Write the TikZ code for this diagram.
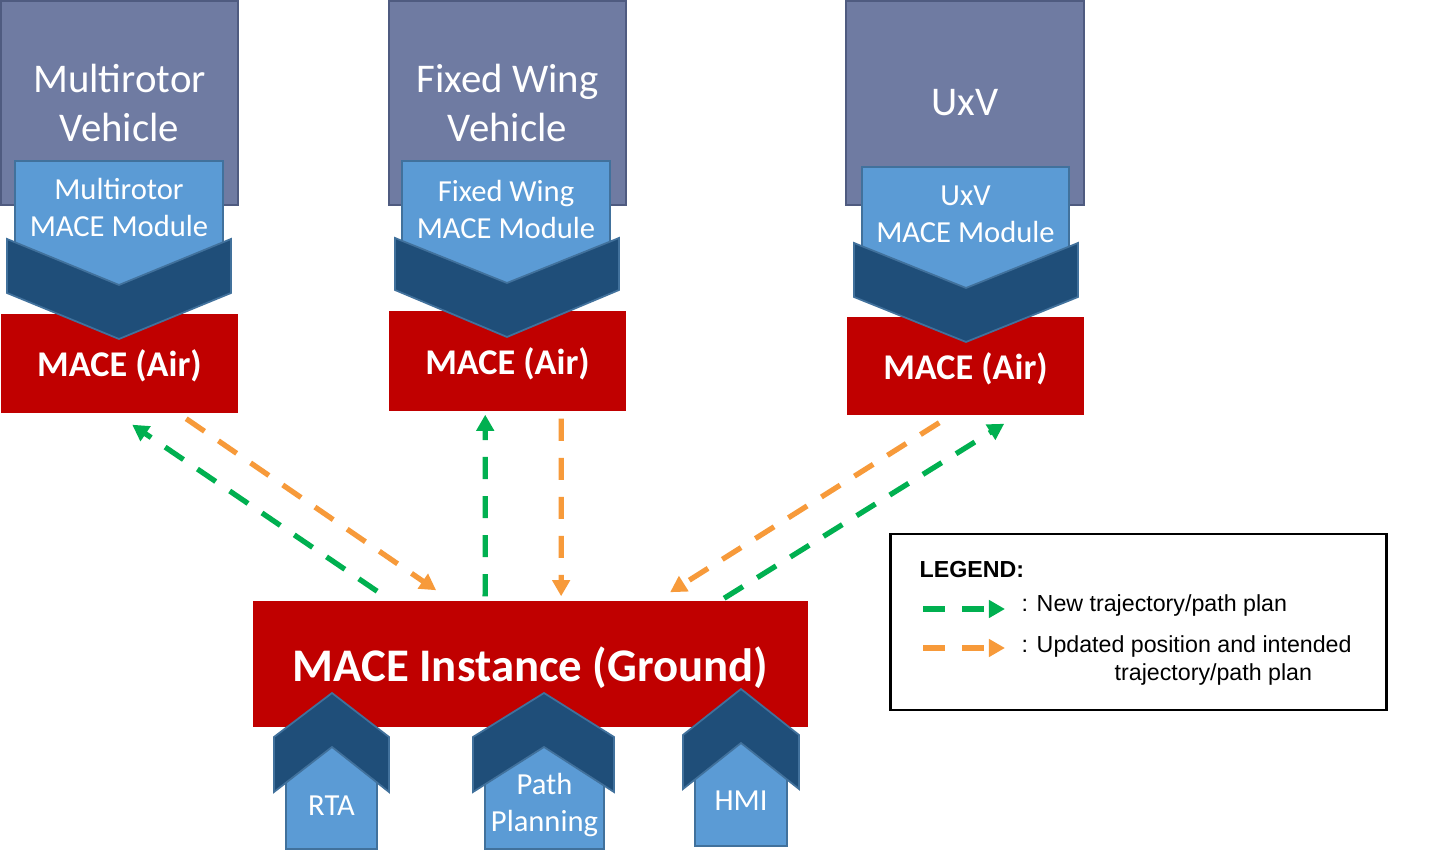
\documentclass[tikz,border=0pt]{standalone}
\usepackage{fontspec}
\setmainfont{Carlito}
\newfontfamily\legendfont{Liberation Sans}
\usetikzlibrary{arrows.meta, calc}

\definecolor{vehgray}{HTML}{6F7BA2}
\definecolor{vehedge}{HTML}{4F5B80}
\definecolor{modblue}{HTML}{5B9BD5}
\definecolor{modedge}{HTML}{41719C}
\definecolor{chevblue}{HTML}{1F4E79}
\definecolor{macered}{HTML}{C00000}
\definecolor{plangreen}{HTML}{00B050}
\definecolor{updorange}{HTML}{F79A3A}

\begin{document}
\begin{tikzpicture}[x=0.01cm, y=-0.01cm,
    vehicle/.style = {draw=vehedge, line width=0.8pt, fill=vehgray, text=white, align=center, inner sep=0pt, minimum width=2.37cm, minimum height=2.04cm, font=\fontsize{11.6}{14}\selectfont},
    module/.style = {draw=modedge, line width=0.5pt, fill=modblue, inner sep=0pt},
    modtext/.style = {text=white, align=center, inner sep=0pt, font=\fontsize{8.7}{10.5}\selectfont},
    air/.style = {fill=macered, text=white, inner sep=0pt, text depth=0pt, minimum width=2.37cm, minimum height=0.99cm, font=\bfseries\fontsize{10.3}{12}\selectfont},
    chev/.style = {draw=modedge, line width=0.5pt, fill=chevblue},
    newplan/.style = {draw=plangreen, line width=1.5pt, dash pattern=on 6.3pt off 4.8pt, -{Triangle[length=4.6pt, width=4.9pt]}},
    updplan/.style = {draw=updorange, line width=1.5pt, dash pattern=on 6.3pt off 4.8pt, -{Triangle[length=4.6pt, width=4.9pt]}},
    legtext/.style = {font=\legendfont\fontsize{6.6}{8}\selectfont, inner sep=0pt, anchor=base west}]

    \fill[white] (0,0) rectangle (1456,858);
    \useasboundingbox (0,0) rectangle (1456,858);

    % vehicles on top
    \node[vehicle] (veh1) at (119.5,103) {Multirotor\\Vehicle};
    \node[vehicle] (veh2) at (507.5,103) {Fixed Wing\\Vehicle};
    \node[vehicle, minimum width=2.38cm] (veh3) at (965,103) {UxV};

    \node[module, minimum width=2.08cm, minimum height=1.29cm] (mod1) at (119,225.5) {};
    \node[module, minimum width=2.08cm, minimum height=1.27cm] (mod2) at (506,224.5) {};
    \node[module, minimum width=2.07cm, minimum height=1.25cm] (mod3) at (965.5,229.5) {};
    \node[modtext] (mod1txt) at ($(mod1.north)+(0,47.5)$) {Multirotor\\MACE Module};
    \node[modtext] (mod2txt) at ($(mod2.north)+(0,49.5)$) {Fixed Wing\\MACE Module};
    \node[modtext] (mod3txt) at ($(mod3.north)+(0,48)$) {UxV\\MACE Module};

    \node[air] (air1) at (119.5,363.5) {MACE (Air)};
    \node[air, minimum height=1cm] (air2) at (507.5,361) {MACE (Air)};
    \node[air, minimum height=0.98cm] (air3) at (965.5,366) {MACE (Air)};

    \draw[chev] (7,239) -- (119,285) -- (231,239) -- (231,293) -- (119,339) -- (7,293) -- cycle;
    \draw[chev] (395,238) -- (507,283) -- (619,238) -- (619,290) -- (507,337) -- (395,290) -- cycle;
    \draw[chev] (854,243) -- (966,288) -- (1078,243) -- (1078,297) -- (966,342) -- (854,297) -- cycle;

    % ground side
    \node[fill=macered, text=white, inner sep=0pt, text depth=0pt, minimum width=5.55cm, minimum height=1.26cm, font=\bfseries\fontsize{13.3}{16}\selectfont] (ground) at (530.5,664) {MACE Instance (Ground)};

    \node[module, minimum width=0.91cm, minimum height=1.04cm] (rta) at (331.5,797) {};
    \node[module, minimum width=1.19cm, minimum height=1.04cm] (plan) at (544.5,797) {};
    \node[module, minimum width=0.92cm, minimum height=1.05cm] (hmi) at (741,793.5) {};
    \node[modtext] (rtatxt) at ($(rta.south)+(0,-44)$) {RTA};
    \node[modtext] (plantxt) at ($(plan.south)+(0,-45)$) {Path\\Planning};
    \node[modtext] (hmitxt) at ($(hmi.south)+(0,-46)$) {HMI};

    \draw[chev] (274,737) -- (332,693) -- (389,737) -- (389,792) -- (332,747) -- (274,792) -- cycle;
    \draw[chev] (473,737) -- (544,693) -- (614,737) -- (614,792) -- (544,747) -- (473,792) -- cycle;
    \draw[chev] (683,735) -- (741,689) -- (799,735) -- (799,789) -- (741,743) -- (683,789) -- cycle;

    % air <-> ground traffic
    \coordinate (gnw) at (ground.north west);
    \coordinate (a1sw) at (air1.south west);
    \coordinate (a2sw) at (air2.south west);
    \coordinate (a3sw) at (air3.south west);

    \draw[newplan] ($(gnw)+(125,-9)$) -- ($(a1sw)+(132,11)$);
    \draw[updplan] ($(a1sw)+(186,5)$) -- ($(gnw)+(184,-10)$);
    \draw[newplan] ($(gnw)+(233,-4)$) -- ($(a2sw)+(97,3)$);
    \draw[updplan] ($(a2sw)+(173,7)$) -- ($(gnw)+(309,-4)$);
    \draw[updplan] ($(a3sw)+(93,7)$) -- ($(gnw)+(418,-8)$);
    \draw[newplan] ($(gnw)+(472,-2)$) -- ($(a3sw)+(158,8)$);

    % legend
    \node[draw=black, line width=0.8pt, minimum width=4.95cm, minimum height=1.76cm, inner sep=0pt] (legend) at (1138.5,622) {};
    \node[legtext, font=\legendfont\bfseries\fontsize{6.6}{8}\selectfont] (legtitle) at (919,578) {LEGEND:};
    \coordinate (lgnew0) at (923,609);
    \coordinate (lgnew1) at (1005,609);
    \coordinate (lgupd0) at (923,648);
    \coordinate (lgupd1) at (1005,648);
    \draw[newplan] (lgnew0) -- (lgnew1);
    \draw[updplan] (lgupd0) -- (lgupd1);
    \node[legtext] (legnew) at (1021,612) {: New trajectory/path plan};
    \node[legtext] (legupd) at (1021,653) {: Updated position and intended};
    \node[legtext] (legupd2) at (1114,681) {trajectory/path plan};
\end{tikzpicture}
\end{document}
